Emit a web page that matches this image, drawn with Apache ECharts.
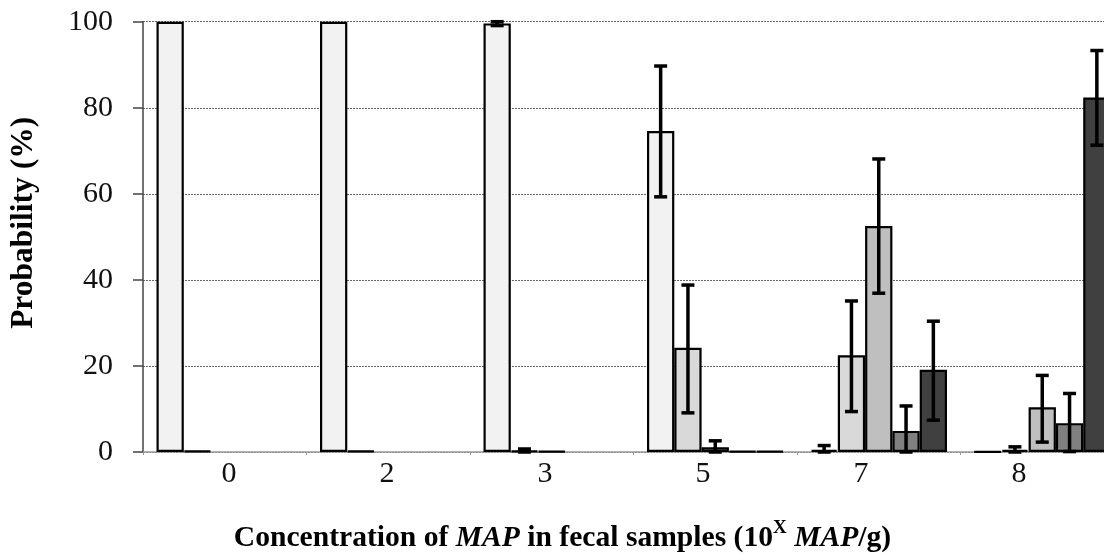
<!DOCTYPE html>
<html>
<head>
<meta charset="utf-8">
<script src="https://cdn.jsdelivr.net/npm/echarts@6/dist/echarts.min.js"></script>
<style>
html,body{margin:0;padding:0;background:#fff;}
#chart{width:1104px;height:560px;}
</style>
</head>
<body>
<div id="chart"></div>
<script>
// ---- data ----
const categories = ['0', '2', '3', '5', '7', '8'];
const seriesNames = ['Group 1', 'Group 2', 'Group 3', 'Group 4', 'Group 5'];
const values1 = [100, 100, 99.6, 74.6, 0.5, 0.1];
const values2 = [0.3, 0.3, 0.3, 24.2, 22.5, 0.5];
const values3 = [null, null, 0.2, 1.1, 52.5, 10.4];
const values4 = [null, null, null, 0.2, 4.9, 6.7];
const values5 = [null, null, null, 0.2, 19.1, 82.4];
const errLow1 = [null, null, 99.1, 59.3, 0, null];
const errHigh1 = [null, null, 100, 89.7, 1.5, null];
const errLow2 = [null, null, 0, 9.1, 9.4, 0];
const errHigh2 = [null, null, 0.7, 38.8, 35.1, 1.2];
const errLow3 = [null, null, null, 0, 36.9, 2.3];
const errHigh3 = [null, null, null, 2.6, 68.1, 17.8];
const errLow4 = [null, null, null, null, 0, 0.1];
const errHigh4 = [null, null, null, null, 10.7, 13.6];
const errLow5 = [null, null, null, null, 7.4, 71.3];
const errHigh5 = [null, null, null, null, 30.4, 93.3];
const yTicks = [0, 20, 40, 60, 80, 100];

// ---- styling ----
const FONT = "'Liberation Serif', 'Times New Roman', serif";
const colors = ['#F2F2F2', '#D9D9D9', '#BFBFBF', '#808080', '#404040'];
const BAR_W = 27.3;

const allValues = [values1, values2, values3, values4, values5];
const allLow = [errLow1, errLow2, errLow3, errLow4, errLow5];
const allHigh = [errHigh1, errHigh2, errHigh3, errHigh4, errHigh5];

const barSeries = allValues.map((vals, i) => ({
  name: seriesNames[i],
  type: 'bar',
  xAxisIndex: 0,
  yAxisIndex: 0,
  data: vals.map(v => v == null ? '-' : v),
  barWidth: BAR_W,
  barGap: '0%',
  itemStyle: { color: colors[i], borderColor: '#000', borderWidth: 2.2 },
  z: 2
}));

const errSeries = allLow.map((lows, i) => {
  const data = [];
  lows.forEach((lo, k) => {
    if (lo != null) data.push([k, lo, allHigh[i][k]]);
  });
  return {
    name: seriesNames[i] + ' error',
    type: 'custom',
    xAxisIndex: 0,
    yAxisIndex: 0,
    data: data,
    z: 5,
    renderItem: function (params, api) {
      const k = api.value(0);
      const lo = api.coord([k, api.value(1)]);
      const hi = api.coord([k, api.value(2)]);
      const x = lo[0] + (i - 2) * BAR_W;
      const st = { stroke: '#000', lineWidth: 3.5 };
      return {
        type: 'group',
        children: [
          { type: 'line', shape: { x1: x, y1: lo[1], x2: x, y2: hi[1] }, style: st },
          { type: 'line', shape: { x1: x - 6.5, y1: hi[1], x2: x + 6.5, y2: hi[1] }, style: st },
          { type: 'line', shape: { x1: x - 6.5, y1: lo[1], x2: x + 6.5, y2: lo[1] }, style: st }
        ]
      };
    }
  };
});

const chart = echarts.init(document.getElementById('chart'));
chart.setOption({
  animation: false,
  backgroundColor: '#fff',
  grid: [
    { left: 143, top: 21.7, width: 981, height: 430.3, containLabel: false, outerBoundsMode: 'none' },
    { left: 150, top: 21.7, width: 948, height: 430.3, containLabel: false, outerBoundsMode: 'none' }
  ],
  xAxis: [{
    type: 'category',
    gridIndex: 0,
    data: categories,
    boundaryGap: true,
    name: '{b|Concentration of }{bi|MAP}{b| in fecal samples (10}{sup|X}{b| }{bi|MAP}{b|/g)}',
    nameLocation: 'middle',
    nameGap: 67,
    nameTextStyle: {
      padding: [0, 142, 0, 0],
      rich: {
        b: { fontFamily: FONT, fontWeight: 'bold', fontSize: 29.6, color: '#000', lineHeight: 34, verticalAlign: 'bottom' },
        bi: { fontFamily: FONT, fontWeight: 'bold', fontStyle: 'italic', fontSize: 29.6, color: '#000', lineHeight: 34, verticalAlign: 'bottom' },
        sup: { fontFamily: FONT, fontWeight: 'bold', fontSize: 19, color: '#000', lineHeight: 22, verticalAlign: 'top' }
      }
    },
    axisLine: { lineStyle: { color: '#9a9a9a', width: 1.5 } },
    axisTick: { show: true, length: 3, lineStyle: { color: '#9a9a9a' } },
    axisLabel: { show: false },
    splitLine: { show: false }
  }, {
    type: 'category',
    gridIndex: 1,
    data: categories,
    boundaryGap: true,
    axisLine: { show: false },
    axisTick: { show: false },
    axisLabel: { fontFamily: FONT, fontSize: 30, color: '#111', margin: 7 },
    splitLine: { show: false }
  }],
  yAxis: [{
    type: 'value',
    gridIndex: 0,
    min: yTicks[0],
    max: yTicks[yTicks.length - 1],
    interval: yTicks[1] - yTicks[0],
    name: 'Probability (%)',
    nameLocation: 'middle',
    nameRotate: 90,
    nameGap: 103,
    nameTextStyle: { fontFamily: FONT, fontWeight: 'bold', fontSize: 31.5, color: '#000', padding: [0, 0, 0, 28] },
    axisLine: { show: true, lineStyle: { color: '#444', width: 1.5 } },
    axisTick: { show: true, inside: false, length: 10, lineStyle: { color: '#444', width: 1.5 } },
    axisLabel: { fontFamily: FONT, fontSize: 30, color: '#111', margin: 30 },
    splitLine: { show: true, lineStyle: { color: '#666', type: [2, 1], width: 1 } }
  }, {
    type: 'value',
    gridIndex: 1,
    min: yTicks[0],
    max: yTicks[yTicks.length - 1],
    show: false
  }],
  series: barSeries.concat(errSeries)
});
</script>
</body>
</html>
